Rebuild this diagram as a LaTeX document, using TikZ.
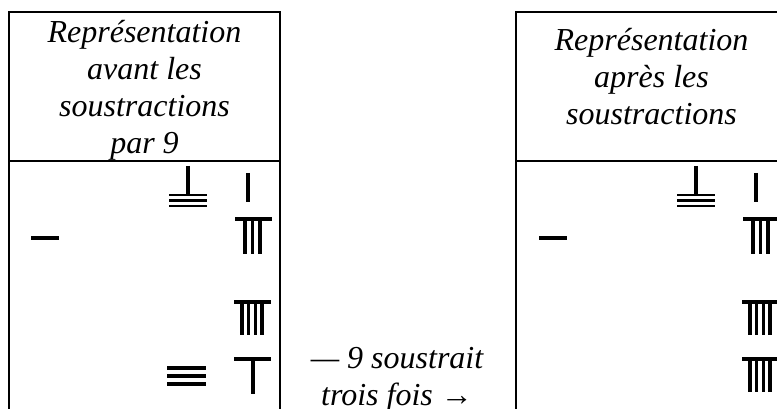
\documentclass[tikz,border=0pt]{standalone}
\usepackage{fontspec}
\setmainfont{Liberation Serif}
\begin{document}
\begin{tikzpicture}
		[x=0.75pt,y=-0.75pt,
		cell/.style={line width=2.2pt},
		rod/.style={line width=2.3pt},
		thin rod/.style={line width=2pt},
		label/.style={font=\fontsize{24}{27.75}\selectfont\itshape,
			align=center, inner sep=0pt}
		]
		\useasboundingbox (0,0) rectangle (777,409);
		\begin{scope}
		\clip (0,0) rectangle (777,409);
		\draw[cell] (9,409) -- (9,12) -- (280,12) -- (280,409);
		\draw[cell] (9,161) -- (280,161);
		\draw[cell] (516,409) -- (516,12) -- (787,12) -- (787,409);
		\draw[cell] (516,161) -- (787,161);
		\foreach \dx in {0,508}{
			\begin{scope}[shift={(\dx,0)}]
				\draw[rod] (188,166) -- (188,194);
				\foreach \y in {195,200.5,206}
					\draw[thin rod] (169,\y) -- (207,\y);
				\draw[rod] (248,173) -- (248,202);
				\draw[rod] (235,219) -- (272,219);
				\foreach \x in {245,252.5,260}
					\draw[rod] (\x,220) -- (\x,254);
				\draw[rod] (31,238) -- (59,238);
				\draw[rod] (234,302) -- (271,302);
				\foreach \x in {242,248.7,255.3,262}
					\draw[rod] (\x,303) -- (\x,335);
				\draw[rod] (234,359) -- (271,359);
			\end{scope}
		}
		\draw[rod] (253,360) -- (253,394);
		\foreach \y in {368,376,384}
			\draw[rod] (167,\y) -- (206,\y);
		\foreach \x in {750,756.7,763.3,770}
			\draw[rod] (\x,360) -- (\x,392);
		\end{scope}
		\node[label, anchor=base] (before) at (144.5,154)
			{Représentation\\avant les\\soustractions\\par 9};
		\node[label, anchor=base] (after) at (651.5,125)
			{Représentation\\après les\\soustractions};
		\node[label, anchor=base] (note) at (397,405)
			{— 9 soustrait\\trois fois →};
	\end{tikzpicture}
\end{document}
